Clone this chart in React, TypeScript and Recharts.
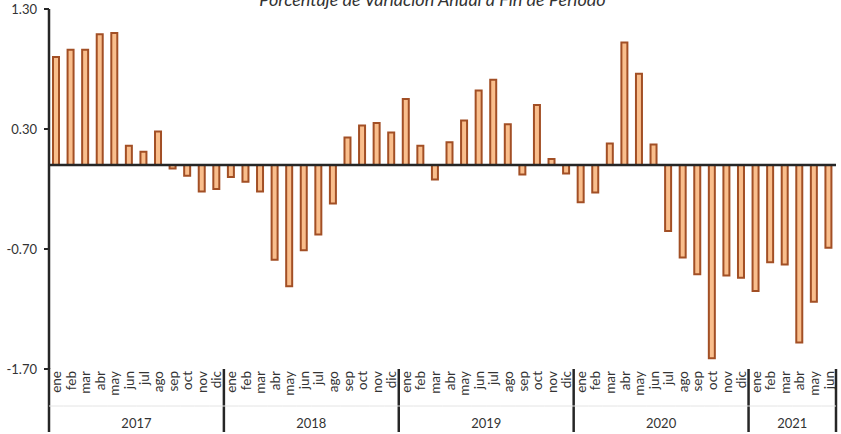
import { BarChart, Bar, XAxis, YAxis, ReferenceLine } from 'recharts'

const MONTHS = ['ene', 'feb', 'mar', 'abr', 'may', 'jun', 'jul', 'ago', 'sep', 'oct', 'nov', 'dic']
const YEARS = ['2017', '2018', '2019', '2020', '2021']
const MONTHS_IN_YEAR = [12, 12, 12, 12, 6]

// variación anual a fin de período (%)
const VALUES = [
  0.9, 0.96, 0.96, 1.09, 1.1, 0.16, 0.11, 0.28, -0.03, -0.09, -0.22, -0.2,
  -0.1, -0.14, -0.22, -0.79, -1.01, -0.71, -0.58, -0.32, 0.23, 0.33, 0.35, 0.27,
  0.55, 0.16, -0.12, 0.19, 0.37, 0.62, 0.71, 0.34, -0.08, 0.5, 0.05, -0.07,
  -0.31, -0.23, 0.18, 1.02, 0.76, 0.17, -0.55, -0.77, -0.91, -1.61, -0.92, -0.94,
  -1.05, -0.81, -0.83, -1.48, -1.14, -0.69,
]

const Y_TICKS = [1.3, 0.3, -0.7, -1.7]

function dataIndex(yi: number, mi: number) {
  let n = 0
  for (let i = 0; i < yi; i++) n += MONTHS_IN_YEAR[i]
  return n + mi
}

const data = YEARS.flatMap((year, yi) =>
  MONTHS.slice(0, MONTHS_IN_YEAR[yi]).map((m, mi) => ({
    key: `${year}-${m}`,
    month: m,
    year,
    monthIdx: mi,
    groupSize: MONTHS_IN_YEAR[yi],
    value: VALUES[dataIndex(yi, mi)],
  }))
)

const W = 841
const H = 434
const LEFT = 49
const RIGHT = 5
const BAND = (W - LEFT - RIGHT) / data.length
const AXIS_COLOR = '#262626'
const FONT = 'Lato, "Liberation Sans", sans-serif'

function MonthTick(props: any) {
  const { x, y, index } = props
  const d = data[index]
  if (!d) return null
  const left = x - BAND / 2
  const right = x + BAND / 2
  return (
    <g>
      <text
        x={x}
        y={y + 2}
        transform={`rotate(-90 ${x} ${y + 2})`}
        textAnchor="end"
        dy="0.36em"
        fontSize={13.5}
        fontFamily={FONT}
        fill="#333"
      >
        {d.month}
      </text>
      {index === 0 && <line x1={left} x2={left} y1={y - 1} y2={y + 63} stroke={AXIS_COLOR} strokeWidth={2.5} />}
      {d.monthIdx === d.groupSize - 1 && (
        <line x1={right} x2={right} y1={y} y2={y + 63} stroke={AXIS_COLOR} strokeWidth={2.5} />
      )}
      <line x1={left} x2={right} y1={y + 37} y2={y + 37} stroke="#e4e4e4" strokeWidth={1} />
      {d.monthIdx === 0 && (
        <text
          x={left + (d.groupSize * BAND) / 2}
          y={y + 59}
          textAnchor="middle"
          fontSize={13}
          fontFamily={FONT}
          fill="#333"
        >
          {d.year}
        </text>
      )}
    </g>
  )
}

export default function App() {
  return (
    <div style={{ position: 'absolute', left: 0, top: 0, width: W, height: H, background: '#fff', overflow: 'hidden' }}>
      <div
        style={{
          position: 'absolute',
          left: 0,
          width: 865,
          top: -10,
          lineHeight: '18px',
          textAlign: 'center',
          fontFamily: FONT,
          fontStyle: 'italic',
          fontSize: 18,
          color: '#333',
          whiteSpace: 'nowrap',
        }}
      >
        Porcentaje de Variación Anual a Fin de Período
      </div>
      <BarChart
        width={W}
        height={H}
        data={data}
        margin={{ top: 9, right: RIGHT, bottom: 0, left: 0 }}
        barCategoryGap={0}
      >
        <XAxis
          dataKey="key"
          interval={0}
          height={65}
          axisLine={false}
          tickLine={false}
          tickSize={0}
          tickMargin={0}
          tick={<MonthTick />}
        />
        <YAxis
          width={LEFT}
          domain={[-1.7, 1.3]}
          ticks={Y_TICKS}
          interval={0}
          tickFormatter={(v: number) => v.toFixed(2)}
          axisLine={{ stroke: AXIS_COLOR, strokeWidth: 2.5 }}
          tickLine={{ stroke: AXIS_COLOR, strokeWidth: 2 }}
          tickSize={5}
          tickMargin={7}
          tick={{ fontSize: 13, fill: '#333', fontFamily: FONT }}
        />
        <Bar
          dataKey="value"
          barSize={6}
          fill="#F9BE8C"
          stroke="#A24F25"
          strokeWidth={2}
          isAnimationActive={false}
        />
        <ReferenceLine y={0} stroke={AXIS_COLOR} strokeWidth={2.5} />
      </BarChart>
    </div>
  )
}
